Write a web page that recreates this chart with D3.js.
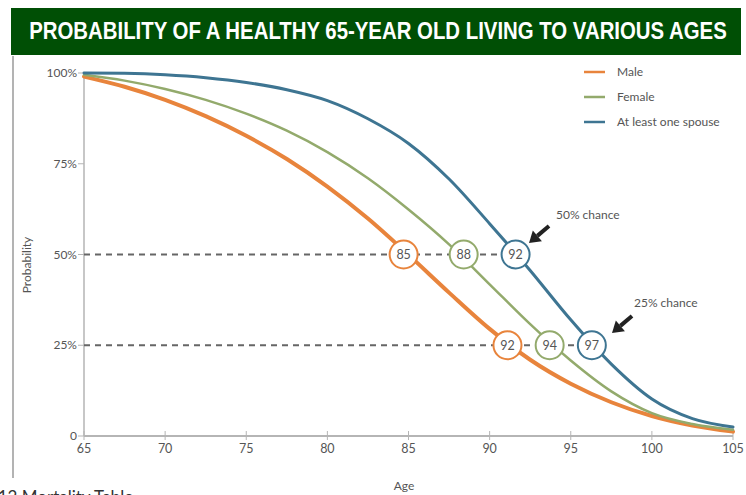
<!DOCTYPE html>
<html>
<head>
<meta charset="utf-8">
<script src="https://cdn.jsdelivr.net/npm/d3@7"></script>
<style>
  body { margin: 0; background: #fff; }
  text { font-family: Lato, "Open Sans", sans-serif; fill: #555; }
</style>
</head>
<body>
<div id="chart"></div>
<script>
// data (percent surviving)
var ages = [65, 67.5, 70, 72.5, 75, 77.5, 80, 82.5, 85, 87.5, 90, 92.5, 95, 97.5, 100, 102.5, 105];
var male = [99, 96.2, 92.6, 88.1, 82.7, 76.3, 68.7, 59.9, 49.9, 39.5, 29.5, 21, 14.4, 9.3, 5.5, 2.9, 1.2];
var female = [99.5, 97.9, 95.6, 92.6, 88.8, 84.1, 78.2, 71, 62.4, 52.8, 41.8, 30.8, 20.8, 12.3, 6.3, 3.3, 1.7];
var spouse = [100, 99.9, 99.5, 98.7, 97.4, 95.4, 92.4, 87.4, 80.6, 70.8, 58.5, 45.6, 32, 19.8, 10.2, 4.8, 2.5];

var seriesNames = ["Male", "Female", "At least one spouse"];
var seriesColors = ["#e8843c", "#93aa6c", "#3e7592"];
var seriesWidths = [4, 2.5, 3];

// crossing ages shown in the circles
var marks50 = [85, 88, 92];
var marks25 = [92, 94, 97];
var markAt50 = [84.7, 88.4, 91.6];
var markAt25 = [91.1, 93.7, 96.3];

var xTicks = [65, 70, 75, 80, 85, 90, 95, 100, 105];
var yTicks = [0, 25, 50, 75, 100];
var yLabels = ["0", "25%", "50%", "75%", "100%"];

var W = 746, H = 495;
var svg = d3.select("#chart").append("svg")
    .attr("width", W)
    .attr("height", H);

// title bar
svg.append("rect")
    .attr("x", 11).attr("y", 8)
    .attr("width", 730).attr("height", 47)
    .attr("fill", "#004f05");
var title = svg.append("text")
    .attr("text-anchor", "middle")
    .style("font-family", "'Liberation Sans Narrow', 'Liberation Sans', Arial, sans-serif")
    .style("font-weight", "bold")
    .style("font-size", "23px")
    .style("fill", "#fff")
    .text("PROBABILITY OF A HEALTHY 65-YEAR OLD LIVING TO VARIOUS AGES");
// squeeze the title into the bar like the condensed original
var tw = title.node().getComputedTextLength();
var sx = Math.min(1, 698 / tw);
title.attr("transform", "translate(378,39) scale(" + sx + ",1)");

// left border of the scanned page
svg.append("line")
    .attr("x1", 13).attr("x2", 13)
    .attr("y1", 56).attr("y2", 478)
    .attr("stroke", "#9a9a9a").attr("stroke-width", 1.5);

var x = d3.scaleLinear().domain([65, 105]).range([84, 733]);
var y = d3.scaleLinear().domain([0, 100]).range([436, 73]);

var axisColor = "#b5b5b5";

// y axis
svg.append("line")
    .attr("x1", x(65)).attr("x2", x(65))
    .attr("y1", y(100)).attr("y2", y(0))
    .attr("stroke", axisColor).attr("stroke-width", 1.5);
yTicks.forEach(function(t, i) {
    svg.append("line")
        .attr("x1", x(65) - 6).attr("x2", x(65))
        .attr("y1", y(t)).attr("y2", y(t))
        .attr("stroke", axisColor).attr("stroke-width", 1);
    svg.append("text")
        .attr("x", x(65) - 7).attr("y", y(t) + 4)
        .attr("text-anchor", "end")
        .style("font-size", "12px")
        .text(yLabels[i]);
});

// x axis
svg.append("line")
    .attr("x1", x(65)).attr("x2", x(105))
    .attr("y1", y(0)).attr("y2", y(0))
    .attr("stroke", axisColor).attr("stroke-width", 2);
xTicks.forEach(function(t) {
    svg.append("line")
        .attr("x1", x(t)).attr("x2", x(t))
        .attr("y1", y(0) - 5).attr("y2", y(0) + 4)
        .attr("stroke", axisColor).attr("stroke-width", 1);
    svg.append("text")
        .attr("x", x(t)).attr("y", y(0) + 17)
        .attr("text-anchor", "middle")
        .style("font-size", "12.5px")
        .text(t);
});

svg.append("text")
    .attr("x", 404).attr("y", 490)
    .attr("text-anchor", "middle")
    .style("font-size", "12px")
    .text("Age");

svg.append("text")
    .attr("transform", "translate(31,265) rotate(-90)")
    .attr("text-anchor", "middle")
    .style("font-size", "12px")
    .text("Probability");

// cut-off source line at the bottom
svg.append("text")
    .attr("x", -22).attr("y", 503)
    .style("font-size", "17px")
    .style("fill", "#333")
    .text("2012 Mortality Table");

// dashed guides
svg.append("line")
    .attr("x1", x(65)).attr("x2", x(markAt50[2]))
    .attr("y1", y(50)).attr("y2", y(50))
    .attr("stroke", "#666").attr("stroke-width", 2)
    .attr("stroke-dasharray", "6,5");
svg.append("line")
    .attr("x1", x(65)).attr("x2", x(markAt25[2]))
    .attr("y1", y(25)).attr("y2", y(25))
    .attr("stroke", "#666").attr("stroke-width", 2)
    .attr("stroke-dasharray", "6,5");

// curves
var line = d3.line()
    .x(function(d) { return x(d[0]); })
    .y(function(d) { return y(d[1]); })
    .curve(d3.curveMonotoneX);

[male, female, spouse].forEach(function(vals, i) {
    var pts = ages.map(function(a, j) { return [a, vals[j]]; });
    svg.append("path")
        .attr("d", line(pts))
        .attr("fill", "none")
        .attr("stroke", seriesColors[i])
        .attr("stroke-width", seriesWidths[i])
        .attr("stroke-linecap", "round");
});

// circles
function addMarks(atAges, labels, level) {
    atAges.forEach(function(a, i) {
        svg.append("circle")
            .attr("cx", x(a)).attr("cy", y(level))
            .attr("r", 14)
            .attr("fill", "#fff")
            .attr("stroke", seriesColors[i])
            .attr("stroke-width", 2);
        svg.append("text")
            .attr("x", x(a)).attr("y", y(level) + 4.5)
            .attr("text-anchor", "middle")
            .style("font-size", "12.5px")
            .text(labels[i]);
    });
}
addMarks(markAt50, marks50, 50);
addMarks(markAt25, marks25, 25);

// arrows
function arrow(x0, y0, x1, y1) {
    var ang = Math.atan2(y1 - y0, x1 - x0);
    var hl = 11, hw = 7;
    var bx = x1 - hl * Math.cos(ang), by = y1 - hl * Math.sin(ang);
    svg.append("line")
        .attr("x1", x0).attr("y1", y0).attr("x2", bx).attr("y2", by)
        .attr("stroke", "#222").attr("stroke-width", 4);
    var px = -Math.sin(ang) * hw, py = Math.cos(ang) * hw;
    svg.append("path")
        .attr("d", "M" + x1 + "," + y1 + "L" + (bx + px) + "," + (by + py) + "L" + (bx - px) + "," + (by - py) + "Z")
        .attr("fill", "#222");
}
arrow(549, 226, 529, 243);
arrow(632, 316, 612, 333);

svg.append("text")
    .attr("x", 556).attr("y", 219)
    .style("font-size", "12px")
    .text("50% chance");
svg.append("text")
    .attr("x", 634).attr("y", 307)
    .style("font-size", "12px")
    .text("25% chance");

// legend
seriesNames.forEach(function(n, i) {
    var ly = 72 + i * 25;
    svg.append("line")
        .attr("x1", 584).attr("x2", 605)
        .attr("y1", ly).attr("y2", ly)
        .attr("stroke", seriesColors[i]).attr("stroke-width", 2.5);
    svg.append("text")
        .attr("x", 617).attr("y", ly + 4)
        .style("font-size", "12px")
        .text(n);
});
</script>
</body>
</html>
